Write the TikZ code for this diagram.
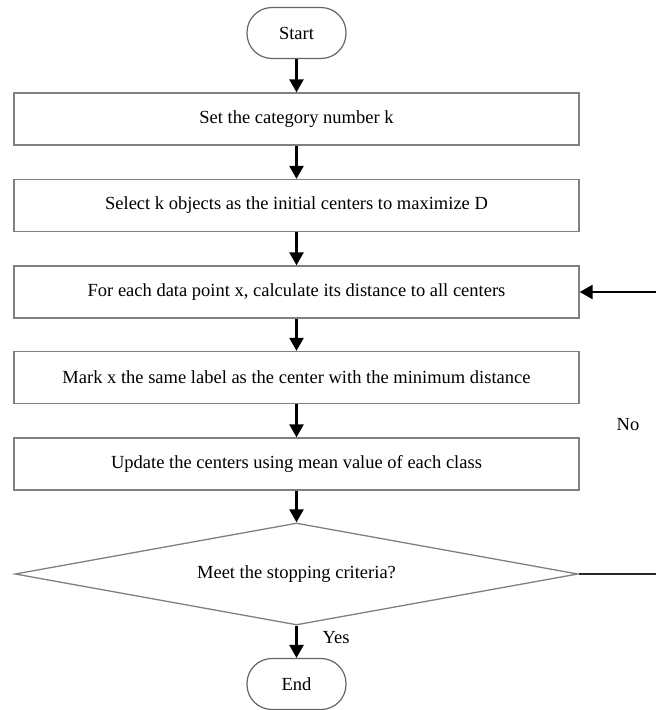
\documentclass[tikz,border=0pt]{standalone}
\usepackage{fontspec}
\setmainfont{Liberation Serif}
\usetikzlibrary{arrows.meta,shapes.geometric}
\tikzset{
  procbox/.style={draw=black!50, line width=1.3pt, rectangle, minimum width=565pt, minimum height=52pt, inner sep=0pt, font=\fontsize{18.5pt}{22pt}\selectfont},
  termbox/.style={draw=black!60, line width=1.2pt, rectangle, rounded corners=25pt, minimum width=99pt, minimum height=51pt, inner sep=0pt, font=\fontsize{18.5pt}{22pt}\selectfont},
  decbox/.style={draw=black!50, line width=1.3pt, diamond, aspect=5.5, minimum width=563pt, minimum height=102pt, inner sep=0pt, font=\fontsize{18.5pt}{22pt}\selectfont},
  flow/.style={draw=black, line width=2.4pt, -{Triangle[width=14pt,length=13pt]}},
  back/.style={draw=black!85, line width=2.4pt},
  lbl/.style={font=\fontsize{18.5pt}{22pt}\selectfont, inner sep=0pt}
}
\begin{document}
\begin{tikzpicture}[x=1pt,y=-1pt]
\clip (0,0) rectangle (656,710);
\fill[white] (0,0) rectangle (656,710);
\node[termbox] (start) at (296.5,33) {Start};
\node[procbox] (b1) at (296.5,119) {Set the category number k};
\node[procbox] (b2) at (296.5,205.5) {Select k objects as the initial centers to maximize D};
\node[procbox] (b3) at (296.5,292) {For each data point x, calculate its distance to all centers};
\node[procbox] (b4) at (296.5,377.5) {Mark x the same label as the center with the minimum distance};
\node[procbox] (b5) at (296.5,464) {Update the centers using mean value of each class};
\node[decbox] (dec) at (296.5,574) {Meet the stopping criteria?};
\node[termbox] (end) at (296.5,684) {End};
\coordinate (r1) at (670,574);
\coordinate (r2) at (670,292);
\node[lbl] (no) at (628,425) {No};
\node[lbl] (yes) at (336,638) {Yes};
\draw[flow] (start) -- (b1);
\draw[flow] (b1) -- (b2);
\draw[flow] (b2) -- (b3);
\draw[flow] (b3) -- (b4);
\draw[flow] (b4) -- (b5);
\draw[flow] (b5.south) -- (dec.north);
\draw[flow] (dec.south) -- (end.north);
\draw[back] (dec.east) -- (r1) -- (r2);
\draw[flow] (r2) -- (b3.east);
\end{tikzpicture}
\end{document}
